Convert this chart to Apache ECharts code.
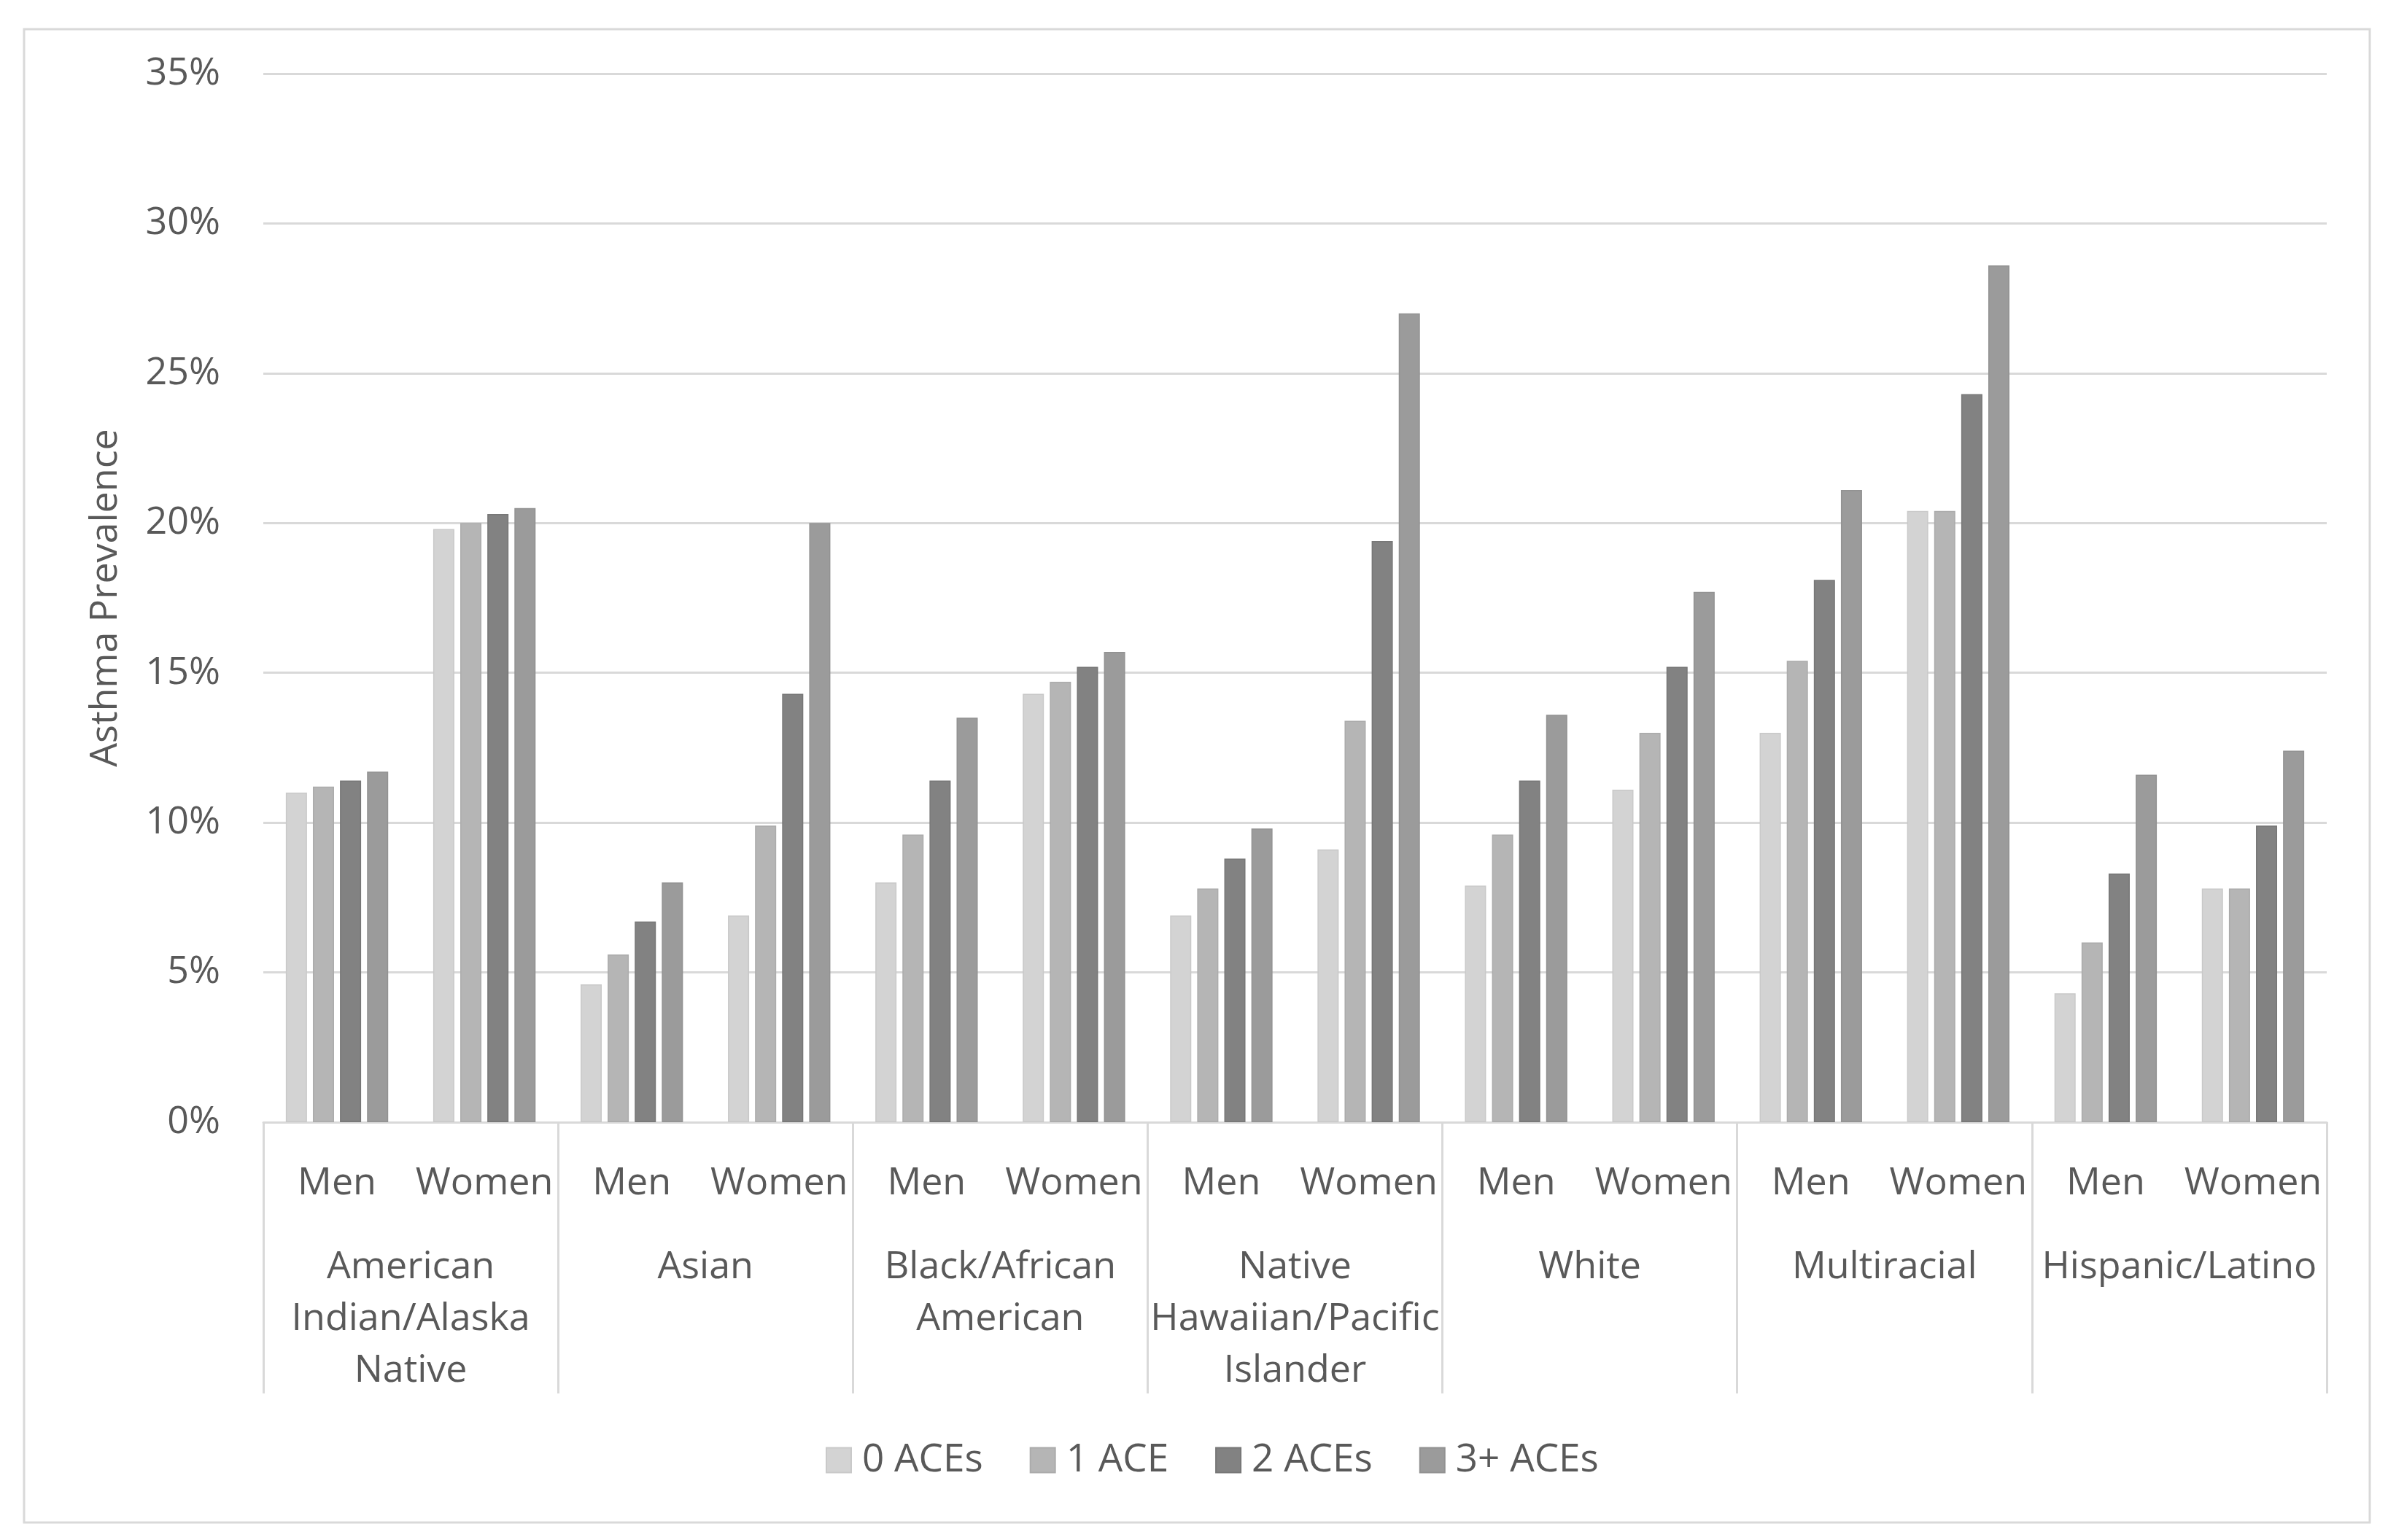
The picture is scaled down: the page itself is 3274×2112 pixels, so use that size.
<!DOCTYPE html>
<html>
<head>
<meta charset="utf-8">
<script src="https://cdn.jsdelivr.net/npm/echarts@6/dist/echarts.min.js"></script>
<style>
html,body{margin:0;padding:0;background:#fff;}
#c{width:3274px;height:2112px;}
</style>
</head>
<body>
<div id="c"></div>
<script>
const subCategories = ['Men','Women','Men','Women','Men','Women','Men','Women','Men','Women','Men','Women','Men','Women'];
const groups = ['American\nIndian/Alaska\nNative','Asian','Black/African\nAmerican','Native\nHawaiian/Pacific\nIslander','White','Multiracial','Hispanic/Latino'];
const seriesNames = ['0 ACEs','1 ACE','2 ACEs','3+ ACEs'];
const ace0 = [11.0, 19.8, 4.6, 6.9, 8.0, 14.3, 6.9, 9.1, 7.9, 11.1, 13.0, 20.4, 4.3, 7.8];
const ace1 = [11.2, 20.0, 5.6, 9.9, 9.6, 14.7, 7.8, 13.4, 9.6, 13.0, 15.4, 20.4, 6.0, 7.8];
const ace2 = [11.4, 20.3, 6.7, 14.3, 11.4, 15.2, 8.8, 19.4, 11.4, 15.2, 18.1, 24.3, 8.3, 9.9];
const ace3 = [11.7, 20.5, 8.0, 20.0, 13.5, 15.7, 9.8, 27.0, 13.6, 17.7, 21.1, 28.6, 11.6, 12.4];
const yTicks = [0,5,10,15,20,25,30,35];

const colors = ['#d3d3d3','#b5b5b5','#828282','#9b9b9b'];
const borders = ['#c9c9c9','#ababab','#777777','#929292'];
const FONT = '"Open Sans", "Noto Sans", sans-serif';
const TXT = '#595959';

const chart = echarts.init(document.getElementById('c'), null, {renderer:'canvas'});
const allData = [ace0, ace1, ace2, ace3];
chart.setOption({
  backgroundColor:'#ffffff',
  animation:false,
  textStyle:{fontFamily:FONT},
  graphic:[{type:'rect', shape:{x:33,y:40,width:3216,height:2048}, style:{fill:'none', stroke:'#d9d9d9', lineWidth:3}, z:-1}],
  legend:{
    data:seriesNames,
    left:1127, top:1971,
    itemWidth:34, itemHeight:34, itemGap:64,
    icon:'rect',
    textStyle:{fontFamily:FONT, fontSize:53, color:TXT, padding:[0,0,0,10]}
  },
  grid:{left:361, right:84, top:101, bottom:573, containLabel:false},
  xAxis:[
    {
      type:'category', data:subCategories, position:'bottom',
      axisLine:{show:true, lineStyle:{color:'#d9d9d9', width:3}},
      axisTick:{show:false},
      axisLabel:{interval:0, fontFamily:FONT, fontSize:52, color:TXT, margin:49, lineHeight:71}
    },
    {
      type:'category', data:groups, position:'bottom', gridIndex:0,
      axisLine:{show:false},
      axisTick:{show:true, interval:0, length:372, lineStyle:{color:'#d9d9d9', width:3}},
      axisLabel:{interval:0, fontFamily:FONT, fontSize:52, color:TXT, margin:164, lineHeight:71, align:'center'}
    }
  ],
  yAxis:{
    type:'value', min:0, max:35, interval:5,
    name:'Asthma Prevalence', nameLocation:'middle', nameGap:190, nameRotate:90,
    nameTextStyle:{fontFamily:FONT, fontSize:52, color:TXT},
    axisLine:{show:false}, axisTick:{show:false},
    axisLabel:{formatter:'{value}%', fontFamily:FONT, fontSize:52, color:TXT, margin:59},
    splitLine:{lineStyle:{color:'#d9d9d9', width:3}}
  },
  series: seriesNames.map((n,i)=>({
    name:n, type:'bar', xAxisIndex:0, data:allData[i],
    barWidth:29, barGap:'28%',
    itemStyle:{color:colors[i], borderColor:borders[i], borderWidth:1.5}
  }))
});
</script>
</body>
</html>
